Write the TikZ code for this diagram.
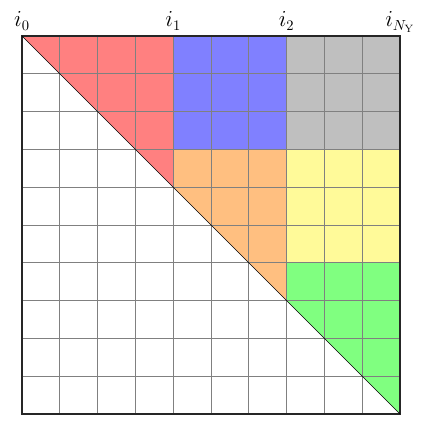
\documentclass[tikz,border=0pt]{standalone}
\usepackage{xcolor}
\usepackage{amsmath}
\usepackage{tikz}
\tikzset{
  gridline/.style={draw=gray, line width=0.5pt},
  frame/.style={draw=black!85, line width=0.8pt},
  diag/.style={draw=black, line width=0.5pt},
  idx/.style={anchor=base, inner sep=0pt, font=\fontsize{16}{18}\selectfont}
}

\begin{document}
\begin{tikzpicture}
  \useasboundingbox (-0.582,-0.212) rectangle (10.582,10.952);

  % Blocks (row 0 at the top)
  \fill[red!50]    (0,10) -- (4,10) -- (4,6) -- cycle;
  \fill[blue!50]   (4,10) rectangle (7,7);
  \fill[gray!50]   (7,10) rectangle (10,7);
  \fill[orange!50] (4,7) -- (7,7) -- (7,3) -- (4,6) -- cycle;
  \fill[yellow!40] (7,7) rectangle (10,4);
  \fill[green!50]  (7,4) -- (10,4) -- (10,0) -- (7,3) -- cycle;

  % Grid
  \draw[gridline] (0,0) grid (10,10);
  \draw[frame] (0,0) rectangle (10,10);
  \draw[diag] (0,10) -- (10,0);

  % Index labels
  \node[idx] (i0) at (0,10.24)  {$i_0$};
  \node[idx] (i1) at (4,10.24)  {$i_1$};
  \node[idx] (i2) at (7,10.24)  {$i_2$};
  \node[idx] (iN) at (10,10.24) {$i_{N_\mathrm{Y}}$};
\end{tikzpicture}
\end{document}
